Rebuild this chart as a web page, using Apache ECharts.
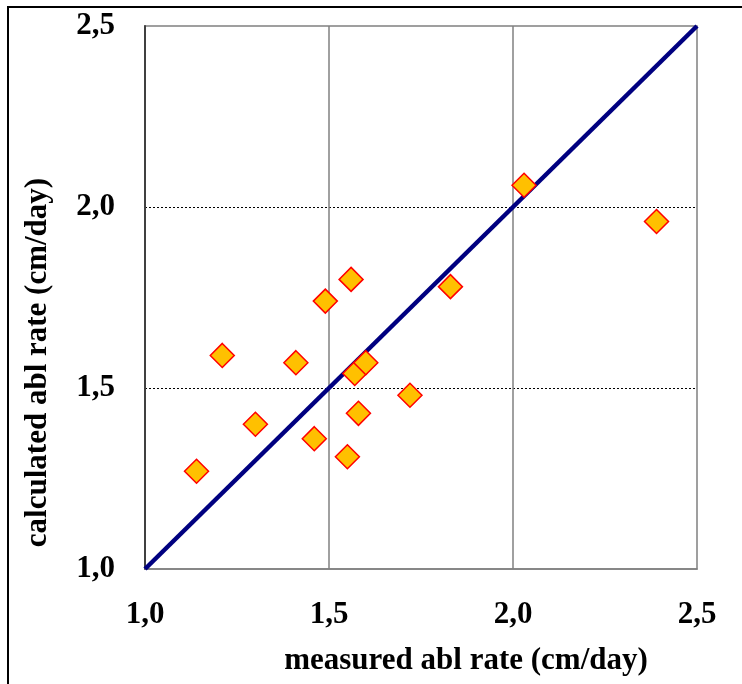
<!DOCTYPE html>
<html><head><meta charset="utf-8">
<script src="https://cdn.jsdelivr.net/npm/echarts@6/dist/echarts.min.js"></script>
<style>html,body{margin:0;padding:0;background:#fff}#c{width:742px;height:684px}</style>
</head><body><div id="c"></div>
<script>
const measured = [1.14, 1.21, 1.30, 1.41, 1.46, 1.49, 1.55, 1.56, 1.57, 1.58, 1.60, 1.72, 1.83, 2.03, 2.39];
const calculated = [1.27, 1.59, 1.40, 1.57, 1.36, 1.74, 1.31, 1.80, 1.54, 1.43, 1.57, 1.48, 1.78, 2.06, 1.96];
const lineX = [1.0, 2.5];
const lineY = [1.0, 2.5];
const xTitle = 'measured abl rate (cm/day)';
const yTitle = 'calculated abl rate (cm/day)';

const chart = echarts.init(document.getElementById('c'));
const font = 'Liberation Serif';
const fmt = v => v.toFixed(1).replace('.', ',');
chart.setOption({
  animation: false,
  graphic: [{type:'rect', shape:{x:8, y:7, width:760, height:700}, style:{fill:'none', stroke:'#000', lineWidth:2}, z:-1}],
  grid: {left:145, top:26, width:552, height:543, show:true, borderColor:'#808080', borderWidth:1.5},
  xAxis: {
    type:'value', min:1, max:2.5, interval:0.5,
    name: xTitle, nameLocation:'middle', nameGap:92,
    nameTextStyle:{fontFamily:font, fontWeight:'bold', fontSize:31, color:'#000', verticalAlign:'middle', padding:[0,0,0,90]},
    axisLine:{show:true, lineStyle:{color:'#808080', width:1.5}},
    axisTick:{show:false},
    axisLabel:{fontFamily:font, fontWeight:'bold', fontSize:31, color:'#000', margin:30, formatter:fmt},
    splitLine:{show:true, showMinLine:false, showMaxLine:false, lineStyle:{color:'#808080', width:1.5}}
  },
  yAxis: {
    type:'value', min:1, max:2.5, interval:0.5,
    name: yTitle, nameLocation:'middle', nameGap:107, nameRotate:90,
    nameTextStyle:{fontFamily:font, fontWeight:'bold', fontSize:31, color:'#000', verticalAlign:'middle', padding:[0,130,0,0]},
    axisLine:{show:true, lineStyle:{color:'#404040', width:2}},
    axisTick:{show:false},
    axisLabel:{fontFamily:font, fontWeight:'bold', fontSize:31, color:'#000', margin:30, formatter:fmt},
    splitLine:{show:true, showMinLine:false, showMaxLine:false, lineStyle:{color:'#000', width:1, type:[2,2]}}
  },
  series: [
    {type:'line', data: lineX.map((x,i)=>[x, lineY[i]]), symbol:'none', lineStyle:{color:'#000080', width:4.5}, z:2},
    {type:'scatter', data: measured.map((x,i)=>[x, calculated[i]]), symbol:'diamond', symbolSize:[24,24],
     itemStyle:{color:'#FFC000', borderColor:'#FF0000', borderWidth:1.5, opacity:1}, z:3}
  ]
});
</script></body></html>
